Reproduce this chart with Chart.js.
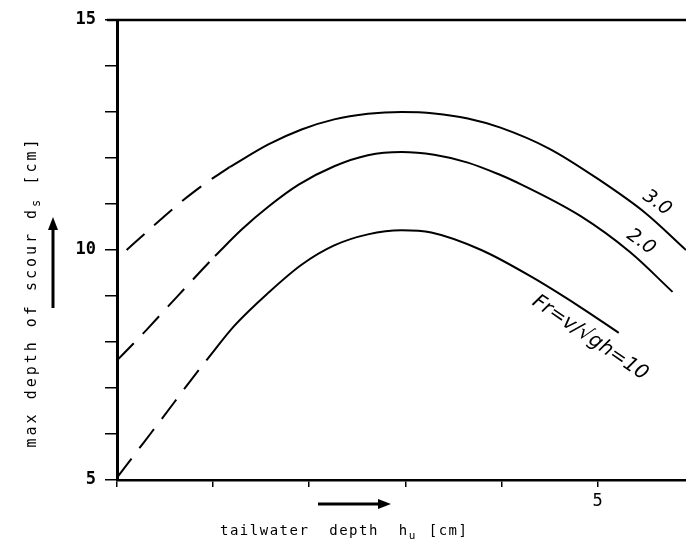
<!DOCTYPE html>
<html>
<head>
<meta charset="utf-8">
<script src="https://cdn.jsdelivr.net/npm/chart.js@4.4.1/dist/chart.umd.min.js"></script>
<style>
  body { margin: 0; background: #fff; }
  #wrap { width: 686px; height: 541px; }
</style>
</head>
<body>
<div id="wrap"><canvas id="scourChart" width="686" height="541"></canvas></div>
<script>
// --- data (x: tailwater depth hu [cm], y: max scour depth ds [cm])
var fr30X = [0.1, 0.34, 0.49, 0.67, 0.81, 1.01, 1.17, 1.58, 1.92, 2.26, 2.61, 2.96, 3.30, 3.65, 3.99, 4.5, 5.0, 5.5, 5.92];
var fr30Y = [10.0, 10.45, 10.73, 11.05, 11.28, 11.58, 11.80, 12.30, 12.62, 12.84, 12.96, 13.00, 12.97, 12.86, 12.66, 12.20, 11.55, 10.80, 10.0];
var fr30DashEnd = 6;

var fr20X = [0.0, 0.21, 0.31, 0.57, 0.88, 1.02, 1.30, 1.58, 1.89, 2.26, 2.61, 2.96, 3.30, 3.65, 3.99, 4.13, 4.82, 5.34, 5.78];
var fr20Y = [7.6, 8.05, 8.27, 8.86, 9.56, 9.87, 10.45, 10.95, 11.42, 11.82, 12.06, 12.13, 12.07, 11.90, 11.63, 11.50, 10.74, 9.95, 9.09];
var fr20DashEnd = 5;

var fr10X = [0.0, 0.28, 0.47, 0.78, 0.93, 1.22, 1.58, 1.92, 2.26, 2.61, 2.96, 3.27, 3.79, 4.31, 4.82, 5.22];
var fr10Y = [5.05, 5.82, 6.34, 7.20, 7.60, 8.35, 9.08, 9.68, 10.10, 10.34, 10.43, 10.38, 10.0, 9.42, 8.76, 8.20];
var fr10DashEnd = 4;

var xLabelTicks = [5];
var yLabelTicks = [5, 10, 15];
var curveLabels = ['3.0', '2.0', 'Fr=v/\u221Agh=10'];

function pts(xs, ys, from, to) {
    var out = [];
    for (var i = from; i <= to; i++) out.push({ x: xs[i], y: ys[i] });
    return out;
}

function curve(xs, ys, dashEnd) {
    var base = { showLine: true, pointRadius: 0, borderColor: '#000', borderWidth: 2, cubicInterpolationMode: 'monotone', fill: false };
    return [
        Object.assign({}, base, { data: pts(xs, ys, 0, dashEnd), borderDash: [24, 13] }),
        Object.assign({}, base, { data: pts(xs, ys, dashEnd, xs.length - 1) })
    ];
}

var datasets = [].concat(
    curve(fr30X, fr30Y, fr30DashEnd),
    curve(fr20X, fr20Y, fr20DashEnd),
    curve(fr10X, fr10Y, fr10DashEnd)
);

// text, arrows and the top frame line
var decorations = {
    id: 'decorations',
    afterDraw: function (chart) {
        var ctx = chart.ctx, a = chart.chartArea;
        ctx.save();
        ctx.strokeStyle = '#000';
        ctx.fillStyle = '#000';

        // top frame
        ctx.lineWidth = 2.5;
        ctx.beginPath();
        ctx.moveTo(a.left - 10, a.top);
        ctx.lineTo(a.right, a.top);
        ctx.stroke();

        // x title + arrow
        ctx.font = '14px "DejaVu Sans Mono"';
        ctx.letterSpacing = '1.5px';
        ctx.textBaseline = 'alphabetic';
        ctx.textAlign = 'left';
        var xt = 'tailwater  depth  h';
        var tx = 220, ty = 535;
        ctx.fillText(xt, tx, ty);
        var w = ctx.measureText(xt).width;
        ctx.font = '11px "DejaVu Sans Mono"';
        ctx.fillText('u', tx + w, ty + 4);
        var w2 = ctx.measureText('u').width;
        ctx.font = '14px "DejaVu Sans Mono"';
        ctx.fillText(' [cm]', tx + w + w2 + 2, ty);

        drawArrow(ctx, 318, 504, 391, 504);

        // y title + arrow
        ctx.save();
        ctx.translate(31, 292);
        ctx.rotate(-Math.PI / 2);
        ctx.textAlign = 'left';
        ctx.font = '15px "DejaVu Sans Mono"';
        ctx.letterSpacing = '3px';
        var yt = 'max depth of scour d';
        var yt2 = ' [cm]';
        var wa = ctx.measureText(yt).width;
        ctx.font = '12px "DejaVu Sans Mono"';
        var wb = ctx.measureText('s').width;
        ctx.font = '15px "DejaVu Sans Mono"';
        var wc = ctx.measureText(yt2).width;
        var start = -(wa + wb + wc) / 2;
        ctx.fillText(yt, start, 5);
        ctx.font = '12px "DejaVu Sans Mono"';
        ctx.fillText('s', start + wa, 9);
        ctx.font = '15px "DejaVu Sans Mono"';
        ctx.fillText(yt2, start + wa + wb, 5);
        ctx.restore();

        drawArrow(ctx, 53, 308, 53, 217);

        // curve labels
        ctx.letterSpacing = '0px';
        ctx.font = 'italic 19px "DejaVu Sans"';
        ctx.textAlign = 'center';
        ctx.textBaseline = 'middle';
        rotText(ctx, curveLabels[0], 657, 203, 0.62);
        rotText(ctx, curveLabels[1], 641, 242, 0.62);
        ctx.font = 'italic 20px "DejaVu Sans"';
        rotText(ctx, curveLabels[2], 590, 338, 0.6);
        ctx.restore();
    }
};

function rotText(ctx, t, x, y, ang) {
    ctx.save();
    ctx.translate(x, y);
    ctx.rotate(ang);
    ctx.fillText(t, 0, 0);
    ctx.restore();
}

function drawArrow(ctx, x1, y1, x2, y2) {
    var ang = Math.atan2(y2 - y1, x2 - x1);
    ctx.lineWidth = 3;
    ctx.beginPath();
    ctx.moveTo(x1, y1);
    ctx.lineTo(x2 - 10 * Math.cos(ang), y2 - 10 * Math.sin(ang));
    ctx.stroke();
    ctx.beginPath();
    ctx.moveTo(x2, y2);
    ctx.lineTo(x2 - 13 * Math.cos(ang) + 5 * Math.sin(ang), y2 - 13 * Math.sin(ang) - 5 * Math.cos(ang));
    ctx.lineTo(x2 - 13 * Math.cos(ang) - 5 * Math.sin(ang), y2 - 13 * Math.sin(ang) + 5 * Math.cos(ang));
    ctx.closePath();
    ctx.fill();
}

var ctx = document.getElementById('scourChart');
var scourChart = new Chart(ctx, {
    type: 'scatter',
    data: { datasets: datasets },
    plugins: [decorations],
    options: {
        responsive: false,
        animation: false,
        layout: { padding: { top: 20, right: 0, left: 0, bottom: 0 } },
        plugins: { legend: { display: false }, tooltip: { enabled: false } },
        scales: {
            x: {
                type: 'linear',
                min: 0,
                max: 5.92,
                afterFit: function (s) { s.height = 61; },
                border: { color: '#000', width: 2.5 },
                grid: { drawOnChartArea: false, drawTicks: true, tickLength: 7, color: '#000', lineWidth: 1.5 },
                ticks: {
                    stepSize: 1,
                    includeBounds: false,
                    autoSkip: false,
                    maxRotation: 0,
                    padding: 4,
                    color: '#000',
                    font: { family: 'DejaVu Sans Mono', size: 17 },
                    callback: function (v) { return xLabelTicks.indexOf(v) >= 0 ? String(v) : ''; }
                }
            },
            y: {
                type: 'linear',
                min: 5,
                max: 15,
                afterFit: function (s) { s.width = 117; },
                border: { color: '#000', width: 3 },
                grid: { drawOnChartArea: false, drawTicks: true, tickLength: 12, color: '#000', lineWidth: 1.5 },
                ticks: {
                    stepSize: 1,
                    includeBounds: false,
                    autoSkip: false,
                    padding: 9,
                    color: '#000',
                    font: { family: 'DejaVu Sans Mono', size: 17, weight: 'bold' },
                    callback: function (v) { return yLabelTicks.indexOf(v) >= 0 ? String(v) : ''; }
                }
            }
        }
    }
});
</script>
</body>
</html>
